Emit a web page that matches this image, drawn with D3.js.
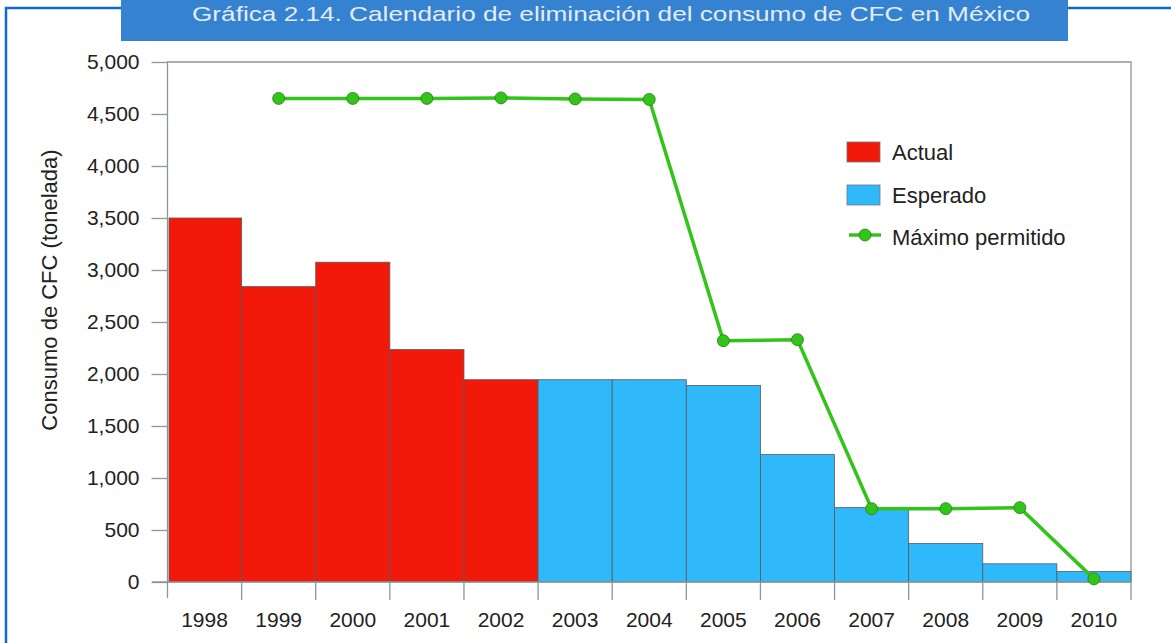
<!DOCTYPE html>
<html>
<head>
<meta charset="utf-8">
<script src="https://cdn.jsdelivr.net/npm/d3@7"></script>
<style>
  html, body { margin: 0; padding: 0; background: #fff; }
  svg { display: block; font-family: "Liberation Sans", Arial, sans-serif; }
</style>
</head>
<body>
<svg id="chart" width="1171" height="643"></svg>
<script>
const years = ['1998', '1999', '2000', '2001', '2002', '2003', '2004', '2005', '2006', '2007', '2008', '2009', '2010']
const consumo = [3500, 2840, 3075, 2235, 1945, 1945, 1945, 1890, 1225, 715, 370, 175, 100]
const tipo = ['Actual', 'Actual', 'Actual', 'Actual', 'Actual', 'Esperado', 'Esperado', 'Esperado', 'Esperado', 'Esperado', 'Esperado', 'Esperado', 'Esperado']
const maxYears = ['1999', '2000', '2001', '2002', '2003', '2004', '2005', '2006', '2007', '2008', '2009', '2010']
const maximo = [4650, 4650, 4650, 4655, 4645, 4640, 2320, 2330, 705, 705, 715, 30]
const yTicks = [0, 500, 1000, 1500, 2000, 2500, 3000, 3500, 4000, 4500, 5000]
const legendItems = ['Actual', 'Esperado', 'Máximo permitido']
const title = 'Gráfica  2.14. Calendario de eliminación del consumo de CFC en México'

const colors = { Actual: '#f2180a', Esperado: '#2fb9fb' }
const green = '#33c41a'

const svg = d3.select('#chart')

// marco exterior azul
svg.append('path')
  .attr('d', 'M6,643 L6,8 L1171,8')
  .attr('fill', 'none')
  .attr('stroke', '#1068d4')
  .attr('stroke-width', 2.5)

// caja del titulo
svg.append('rect')
  .attr('x', 121).attr('y', 0).attr('width', 947).attr('height', 41)
  .attr('fill', '#3582d0')
svg.append('text')
  .attr('x', 192).attr('y', 21)
  .attr('textLength', 838).attr('lengthAdjust', 'spacingAndGlyphs')
  .attr('font-size', 21)
  .attr('fill', '#e4ecf5')
  .text(title)

const x = d3.scaleBand().domain(years).range([167.5, 1131]).padding(0)
const y = d3.scaleLinear().domain([0, 5000]).range([582, 62])

const axisColor = '#8a9898'

// marco del area de la grafica
svg.append('path')
  .attr('d', `M167.5,598 L167.5,62 L1131,62 L1131,600`)
  .attr('fill', 'none').attr('stroke', axisColor).attr('stroke-width', 1.3)

// barras
svg.append('g').selectAll('rect')
  .data(years)
  .join('rect')
  .attr('x', (d, i) => x(d) + (i === 0 ? 1.5 : 0))
  .attr('y', (d, i) => y(consumo[i]))
  .attr('width', (d, i) => x.bandwidth() - (i === 0 ? 1.5 : 0))
  .attr('height', (d, i) => y(0) - y(consumo[i]))
  .attr('fill', (d, i) => colors[tipo[i]])
  .attr('stroke', '#5a5a5a')
  .attr('stroke-width', 0.8)

// eje y
const yAxis = d3.axisLeft(y).tickValues(yTicks).tickSize(16).tickPadding(12)
  .tickFormat(d3.format(','))
const gy = svg.append('g').attr('transform', 'translate(167.5,0)').call(yAxis)
gy.select('.domain').remove()
gy.selectAll('.tick line').attr('stroke', axisColor).attr('stroke-width', 1.3)
gy.selectAll('.tick text').attr('font-size', 21).attr('fill', '#222')
  .attr('font-family', '"Liberation Sans", Arial, sans-serif')

// linea base
svg.append('line')
  .attr('x1', 152).attr('x2', 1131).attr('y1', y(0)).attr('y2', y(0))
  .attr('stroke', axisColor).attr('stroke-width', 1.3)

// eje x: divisiones entre años
svg.append('g').selectAll('line')
  .data(years.slice(1))
  .join('line')
  .attr('x1', d => x(d)).attr('x2', d => x(d))
  .attr('y1', y(0)).attr('y2', 600)
  .attr('stroke', axisColor).attr('stroke-width', 1.3)

svg.append('g').selectAll('text')
  .data(years)
  .join('text')
  .attr('x', d => x(d) + x.bandwidth() / 2)
  .attr('y', 627)
  .attr('text-anchor', 'middle')
  .attr('font-size', 21)
  .attr('fill', '#222')
  .text(d => d)

// titulo eje y
svg.append('text')
  .attr('transform', 'translate(57,290) rotate(-90)')
  .attr('text-anchor', 'middle')
  .attr('font-size', 22)
  .attr('fill', '#222')
  .text('Consumo de CFC (tonelada)')

// linea maximo permitido
const line = d3.line()
  .x((d, i) => x(maxYears[i]) + x.bandwidth() / 2)
  .y(d => y(d))
svg.append('path')
  .datum(maximo)
  .attr('d', line)
  .attr('fill', 'none')
  .attr('stroke', green)
  .attr('stroke-width', 3.5)
svg.append('g').selectAll('circle')
  .data(maximo)
  .join('circle')
  .attr('cx', (d, i) => x(maxYears[i]) + x.bandwidth() / 2)
  .attr('cy', d => y(d))
  .attr('r', 6)
  .attr('fill', green)
  .attr('stroke', '#2a7a20')
  .attr('stroke-width', 0.8)

// leyenda
const legend = svg.append('g').attr('transform', 'translate(847,142)')
legendItems.forEach((name, i) => {
  const g = legend.append('g').attr('transform', `translate(0,${i * 43})`)
  if (colors[name]) {
    g.append('rect')
      .attr('width', 33).attr('height', 20)
      .attr('fill', colors[name])
      .attr('stroke', '#777').attr('stroke-width', 0.8)
  } else {
    g.append('line')
      .attr('x1', 2).attr('x2', 34).attr('y1', 7).attr('y2', 7)
      .attr('stroke', green).attr('stroke-width', 3.5)
    g.append('circle')
      .attr('cx', 18).attr('cy', 7).attr('r', 6)
      .attr('fill', green).attr('stroke', '#2a7a20').attr('stroke-width', 0.8)
  }
  g.append('text')
    .attr('x', 45).attr('y', colors[name] ? 18 : 17)
    .attr('font-size', 22)
    .attr('fill', '#222')
    .text(name)
})
</script>
</body>
</html>
